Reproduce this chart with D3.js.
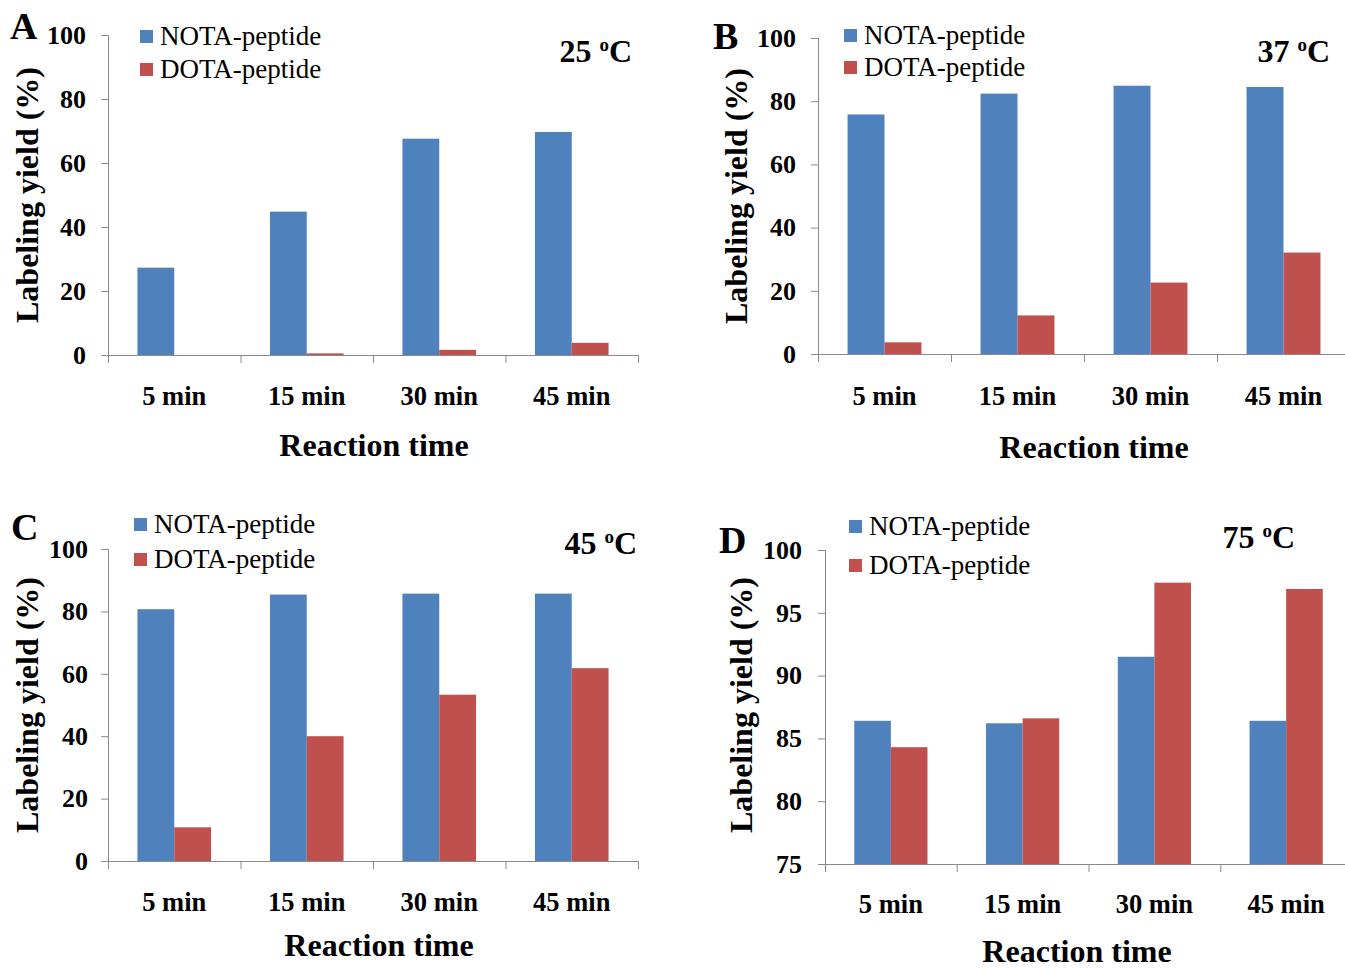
<!DOCTYPE html>
<html>
<head>
<meta charset="utf-8">
<script src="https://cdn.jsdelivr.net/npm/d3@7"></script>
<style>
  html, body { margin: 0; padding: 0; background: #fff; }
  svg { display: block; }
  text { font-family: "Liberation Serif", "Times New Roman", serif; fill: #000; }
</style>
</head>
<body>
<svg id="chart" width="1345" height="969"></svg>
<script>
// ---- data ----
const categories = ["5 min", "15 min", "30 min", "45 min"];
const seriesNames = ["NOTA-peptide", "DOTA-peptide"];
const nota25 = [27.3, 44.8, 67.6, 69.7];
const dota25 = [0.0, 0.5, 1.6, 3.8];
const nota37 = [75.8, 82.4, 84.9, 84.5];
const dota37 = [3.7, 12.2, 22.6, 32.1];
const nota45 = [80.7, 85.4, 85.7, 85.7];
const dota45 = [10.8, 40.0, 53.3, 61.8];
const nota75 = [86.4, 86.2, 91.5, 86.4];
const dota75 = [84.3, 86.6, 97.4, 96.9];
const ticks0to100 = [0, 20, 40, 60, 80, 100];
const ticks75to100 = [75, 80, 85, 90, 95, 100];
const panelLetters = ["A", "B", "C", "D"];
const temperatures = ["25", "37", "45", "75"];
const xTitle = "Reaction time";
const yTitle = "Labeling yield (%)";

const colors = ["#4F81BD", "#C0504D"];
const axisColor = "#8a8a8a";
const FONT = "Liberation Serif, Times New Roman, serif";

const panels = [
  { letter: panelLetters[0], temp: temperatures[0], series: [nota25, dota25], ticks: ticks0to100,
    left: 108, right: 638, top: 35, bottom: 355, tickPad: 15,
    letterPos: [10, 39], tempPos: [632, 62], legend: { x: 140, y: [30, 63] },
    catY: 405, titleX: [374, 456], yTitlePos: [38, 195] },
  { letter: panelLetters[1], temp: temperatures[1], series: [nota37, dota37], ticks: ticks0to100,
    left: 818, right: 1350, top: 38, bottom: 354, tickPad: 15,
    letterPos: [713, 49], tempPos: [1330, 62], legend: { x: 844, y: [29, 61] },
    catY: 405, titleX: [1094, 458], yTitlePos: [747, 196] },
  { letter: panelLetters[2], temp: temperatures[2], series: [nota45, dota45], ticks: ticks0to100,
    left: 108, right: 638, top: 549, bottom: 861, tickPad: 13,
    letterPos: [11, 540], tempPos: [637, 554], legend: { x: 134, y: [518, 553] },
    catY: 911, titleX: [379, 956], yTitlePos: [38, 705] },
  { letter: panelLetters[3], temp: temperatures[3], series: [nota75, dota75], ticks: ticks75to100,
    left: 825, right: 1352, top: 550, bottom: 864, tickPad: 16,
    letterPos: [719, 553], tempPos: [1295, 548], legend: { x: 849, y: [520, 559] },
    catY: 913, titleX: [1077, 962], yTitlePos: [752, 705] }
];

const svg = d3.select("#chart");

panels.forEach(p => {
  const g = svg.append("g");
  const y = d3.scaleLinear()
    .domain([p.ticks[0], p.ticks[p.ticks.length - 1]])
    .range([p.bottom, p.top]);
  const x0 = d3.scaleBand().domain(categories).range([p.left, p.right]).padding(0);
  const x1 = d3.scaleBand().domain(seriesNames).range([0, x0.bandwidth()])
    .paddingInner(0).paddingOuter(0.8);

  // bars
  seriesNames.forEach((s, si) => {
    g.append("g").selectAll("rect")
      .data(categories.map((c, i) => ({ c, v: p.series[si][i] })))
      .join("rect")
      .attr("x", d => x0(d.c) + x1(s))
      .attr("width", x1.bandwidth())
      .attr("y", d => y(d.v))
      .attr("height", d => Math.max(0, y(y.domain()[0]) - y(d.v)))
      .attr("fill", colors[si]);
  });

  // y axis
  const yAxis = d3.axisLeft(y).tickValues(p.ticks).tickSize(7).tickPadding(p.tickPad);
  const ya = g.append("g").attr("transform", `translate(${p.left},0)`).call(yAxis)
    .attr("font-family", FONT);
  ya.select(".domain").attr("stroke", axisColor).attr("d", `M0.5,${p.top}V${p.bottom}`);
  ya.selectAll(".tick line").attr("stroke", axisColor);
  ya.selectAll(".tick text")
    .attr("font-family", FONT)
    .attr("font-weight", "bold").attr("font-size", 26).attr("fill", "#000");

  // x axis with ticks at category boundaries
  const bounds = categories.map(c => x0(c)).concat([p.right]);
  const xa = g.append("g");
  xa.append("line")
    .attr("x1", p.left).attr("x2", p.right)
    .attr("y1", p.bottom + 0.5).attr("y2", p.bottom + 0.5)
    .attr("stroke", axisColor);
  xa.selectAll("line.tk").data(bounds).join("line").attr("class", "tk")
    .attr("x1", d => d + 0.5).attr("x2", d => d + 0.5)
    .attr("y1", p.bottom).attr("y2", p.bottom + 8)
    .attr("stroke", axisColor);
  xa.selectAll("text").data(categories).join("text")
    .attr("x", d => x0(d) + x0.bandwidth() / 2)
    .attr("y", p.catY)
    .attr("text-anchor", "middle")
    .attr("font-weight", "bold").attr("font-size", 26.5)
    .text(d => d);

  // axis titles
  g.append("text")
    .attr("x", p.titleX[0]).attr("y", p.titleX[1])
    .attr("text-anchor", "middle").attr("font-weight", "bold").attr("font-size", 32)
    .text(xTitle);
  g.append("text")
    .attr("transform", `translate(${p.yTitlePos[0]},${p.yTitlePos[1]}) rotate(-90)`)
    .attr("text-anchor", "middle").attr("font-weight", "bold").attr("font-size", 32)
    .text(yTitle);

  // panel letter
  g.append("text")
    .attr("x", p.letterPos[0]).attr("y", p.letterPos[1])
    .attr("font-weight", "bold").attr("font-size", 38)
    .text(p.letter);

  // temperature label
  const t = g.append("text")
    .attr("x", p.tempPos[0]).attr("y", p.tempPos[1])
    .attr("text-anchor", "end").attr("font-weight", "bold").attr("font-size", 32);
  t.append("tspan").text(p.temp + " ");
  t.append("tspan").attr("font-size", 19).attr("dy", -11).text("o");
  t.append("tspan").attr("dy", 11).text("C");

  // legend
  seriesNames.forEach((s, si) => {
    g.append("rect")
      .attr("x", p.legend.x).attr("y", p.legend.y[si])
      .attr("width", 13).attr("height", 13)
      .attr("fill", colors[si]);
    g.append("text")
      .attr("x", p.legend.x + 20).attr("y", p.legend.y[si] + 15)
      .attr("font-size", 27)
      .text(s);
  });
});
</script>
</body>
</html>
